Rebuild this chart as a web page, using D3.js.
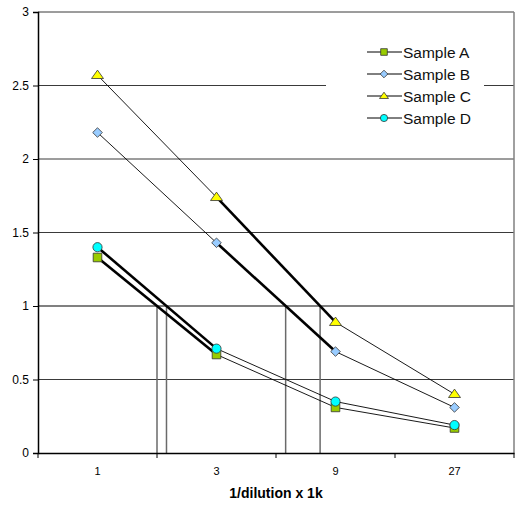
<!DOCTYPE html>
<html>
<head>
<meta charset="utf-8">
<script src="https://cdn.jsdelivr.net/npm/d3@7"></script>
<style>
  body { margin: 0; background: #fff; }
  svg { font-family: "Liberation Sans", Arial, sans-serif; }
</style>
</head>
<body>
<svg id="chart" width="522" height="505"></svg>
<script>
// categories on the x axis
const dilutions = ["1", "3", "9", "27"];
const yTicks = [0, 0.5, 1, 1.5, 2, 2.5, 3];

// series values
const sampleA = [1.33, 0.67, 0.31, 0.17];
const sampleB = [2.18, 1.43, 0.69, 0.31];
const sampleC = [2.57, 1.74, 0.89, 0.40];
const sampleD = [1.40, 0.71, 0.35, 0.19];

const seriesNames = ["Sample A", "Sample B", "Sample C", "Sample D"];
// index of the segment drawn bold (the one crossing the reference level)
const boldSegment = [0, 1, 1, 0];
const refLevel = 1;

const margin = { top: 12, right: 8, bottom: 52, left: 38 };
const width = 522, height = 505;

const svg = d3.select("#chart");

const x = d3.scaleBand()
  .domain(dilutions)
  .range([margin.left, width - margin.right]);

const y = d3.scaleLinear()
  .domain([0, 3])
  .range([height - margin.bottom, margin.top]);

const cx = d => x(d) + x.bandwidth() / 2;

// Excel-like marker shapes, size = half width
const square = { draw(ctx, r) { ctx.rect(-r, -r, 2 * r, 2 * r); } };
const diamond = { draw(ctx, r) { ctx.moveTo(0, -r); ctx.lineTo(r, 0); ctx.lineTo(0, r); ctx.lineTo(-r, 0); ctx.closePath(); } };
const triangle = { draw(ctx, r) { ctx.moveTo(0, -r * 0.85); ctx.lineTo(r, r * 0.55); ctx.lineTo(-r, r * 0.55); ctx.closePath(); } };
const circle = { draw(ctx, r) { ctx.moveTo(r, 0); ctx.arc(0, 0, r, 0, 2 * Math.PI); } };

// Gridlines
svg.append("g")
  .selectAll("line")
  .data(yTicks.filter(t => t > 0))
  .join("line")
  .attr("x1", margin.left)
  .attr("x2", width - margin.right)
  .attr("y1", d => y(d))
  .attr("y2", d => y(d))
  .attr("stroke", d => d === refLevel ? "#808080" : "#3a3a3a")
  .attr("stroke-width", d => d === refLevel ? 2 : 1);

// right border
svg.append("line")
  .attr("x1", width - margin.right).attr("x2", width - margin.right)
  .attr("y1", margin.top).attr("y2", y(0))
  .attr("stroke", "#808080").attr("stroke-width", 1.5);

const series = [
  { name: seriesNames[0], values: sampleA, shape: square, r: 4.3, lr: 3.3, fill: "#99cc00" },
  { name: seriesNames[1], values: sampleB, shape: diamond, r: 4.8, lr: 3.8, fill: "#99ccff" },
  { name: seriesNames[2], values: sampleC, shape: triangle, r: 6, lr: 4.5, fill: "#ffff00" },
  { name: seriesNames[3], values: sampleD, shape: circle, r: 4.6, lr: 3.6, fill: "#00ffff" }
];

// drop lines where the bold segment crosses the reference level
const drops = series.map((s, i) => {
  const k = boldSegment[i];
  const v0 = s.values[k], v1 = s.values[k + 1];
  const t = (v0 - refLevel) / (v0 - v1);
  return cx(dilutions[k]) + t * (cx(dilutions[k + 1]) - cx(dilutions[k]));
});

svg.append("g")
  .selectAll("line")
  .data(drops)
  .join("line")
  .attr("x1", d => d).attr("x2", d => d)
  .attr("y1", y(refLevel)).attr("y2", y(0))
  .attr("stroke", "#6a6a6a")
  .attr("stroke-width", 1.5);

// Axes
const yAxis = svg.append("g")
  .attr("transform", `translate(${margin.left},0)`)
  .call(d3.axisLeft(y).tickValues(yTicks).tickFormat(d3.format("")).tickSize(5).tickPadding(4));
yAxis.select(".domain").attr("stroke", "#000").attr("stroke-width", 1.5);
yAxis.selectAll("text").attr("font-size", 12).attr("fill", "#000");

const xAxis = svg.append("g")
  .attr("transform", `translate(0,${y(0)})`)
  .call(d3.axisBottom(x).tickSize(0).tickPadding(14));
xAxis.select(".domain").attr("stroke", "#000").attr("stroke-width", 1.5);
xAxis.selectAll("text").attr("font-size", 11).attr("fill", "#000");

// tick marks between categories
const bounds = dilutions.map(d => x(d)).concat([width - margin.right]);
svg.append("g")
  .selectAll("line")
  .data(bounds)
  .join("line")
  .attr("x1", d => d).attr("x2", d => d)
  .attr("y1", y(0)).attr("y2", y(0) + 5)
  .attr("stroke", "#000");

svg.append("text")
  .attr("x", (margin.left + width - margin.right) / 2)
  .attr("y", 498)
  .attr("text-anchor", "middle")
  .attr("font-size", 14)
  .attr("font-weight", "bold")
  .text("1/dilution x 1k");

// Lines
const segs = [];
series.forEach((s, i) => {
  for (let k = 0; k < s.values.length - 1; k++) {
    segs.push({ a: k, v0: s.values[k], v1: s.values[k + 1], bold: k === boldSegment[i] });
  }
});

svg.append("g")
  .selectAll("line")
  .data(segs)
  .join("line")
  .attr("x1", d => cx(dilutions[d.a]))
  .attr("x2", d => cx(dilutions[d.a + 1]))
  .attr("y1", d => y(d.v0))
  .attr("y2", d => y(d.v1))
  .attr("stroke", "#000")
  .attr("stroke-width", d => d.bold ? 2.6 : 0.9);

// Markers
series.forEach(s => {
  svg.append("g")
    .selectAll("path")
    .data(s.values)
    .join("path")
    .attr("transform", (d, i) => `translate(${cx(dilutions[i])},${y(d)})`)
    .attr("d", d3.symbol().type(s.shape).size(s.r))
    .attr("fill", s.fill)
    .attr("stroke", "#333")
    .attr("stroke-width", 0.8);
});

// Legend
const legend = svg.append("g").attr("transform", "translate(326,38)");
legend.append("rect")
  .attr("width", 158).attr("height", 94)
  .attr("fill", "#fff");

const item = legend.selectAll("g")
  .data(series)
  .join("g")
  .attr("transform", (d, i) => `translate(0,${14 + i * 22})`);

item.append("line")
  .attr("x1", 41).attr("x2", 76)
  .attr("stroke", "#000").attr("stroke-width", 1);

item.append("path")
  .attr("transform", "translate(58,0)")
  .attr("d", d => d3.symbol().type(d.shape).size(d.lr)())
  .attr("fill", d => d.fill)
  .attr("stroke", "#333")
  .attr("stroke-width", 0.8);

item.append("text")
  .attr("x", 77)
  .attr("y", 5.5)
  .attr("font-size", 15.5)
  .attr("fill", "#111")
  .text(d => d.name);
</script>
</body>
</html>
